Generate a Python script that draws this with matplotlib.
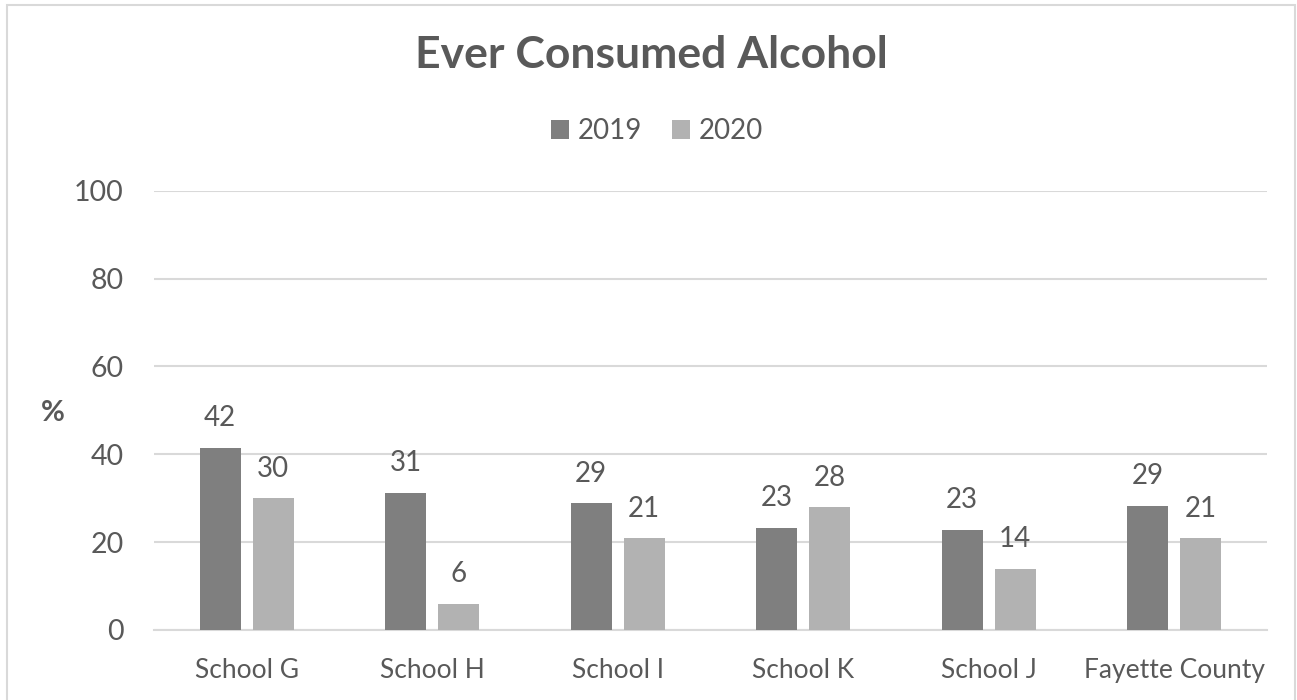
import matplotlib.pyplot as plt
import numpy as np
from matplotlib.patches import Rectangle

plt.rcParams['font.family'] = ['Lato', 'DejaVu Sans']

schools = ['School G', 'School H', 'School I', 'School K', 'School J', 'Fayette County']
vals_2019 = [41.5, 31.2, 28.8, 23.3, 22.8, 28.3]
vals_2020 = [30.0, 6.0, 20.9, 27.9, 13.9, 20.9]
labels_2019 = ['42', '31', '29', '23', '23', '29']
labels_2020 = ['30', '6', '21', '28', '14', '21']

c2019 = '#7f7f7f'
c2020 = '#b2b2b2'
txt = '#595959'
grid = '#d9d9d9'

W, H = 1297, 700
fig = plt.figure(figsize=(W / 100, H / 100), dpi=100)
ax = fig.add_axes([154 / W, 70 / H, (1267 - 154) / W, (630 - 190.7) / H])

x = np.arange(len(schools))
bw = 0.222
off = 0.143
b1 = ax.bar(x - off, vals_2019, bw, color=c2019, label='2019', zorder=3)
b2 = ax.bar(x + off, vals_2020, bw, color=c2020, label='2020', zorder=3)
ax.bar_label(b1, labels=labels_2019, padding=12, fontsize=20, color=txt)
ax.bar_label(b2, labels=labels_2020, padding=12, fontsize=20, color=txt)

ax.set_xlim(-0.5, len(schools) - 0.5)
ax.set_ylim(0, 100)
ax.set_yticks(range(0, 101, 20))
ax.set_xticks(x)
ax.set_xticklabels(schools)
ax.tick_params(axis='both', length=0, colors=txt)
ax.tick_params(axis='x', pad=20, labelsize=19)
ax.tick_params(axis='y', pad=22, labelsize=20.5)
ax.yaxis.grid(True, color=grid, linewidth=1.5, zorder=0)
for s in ['top', 'right', 'left']:
    ax.spines[s].set_visible(False)
ax.spines['bottom'].set_color(grid)
ax.spines['bottom'].set_linewidth(1.5)

fig.text(651 / W, 1 - 55 / H, 'Ever Consumed Alcohol', ha='center', va='center',
         fontsize=32, fontweight='bold', color=txt)
fig.text(53 / W, 1 - 413 / H, '%', ha='center', va='center', fontsize=21,
         fontweight='bold', color=txt)

fig.legend(handles=[b1, b2], loc='center', bbox_to_anchor=(657 / W, 1 - 131 / H),
           ncol=2, frameon=False, fontsize=20, labelcolor=txt, handlelength=0.65,
           handleheight=0.65, handletextpad=0.3, columnspacing=1.1)

fig.patches.append(Rectangle((7 / W, -0.01), (1295 - 7) / W, 1.01 - 5 / H,
                             transform=fig.transFigure, fill=False,
                             edgecolor=grid, linewidth=1.5))

fig.savefig('out.png', dpi=100)
